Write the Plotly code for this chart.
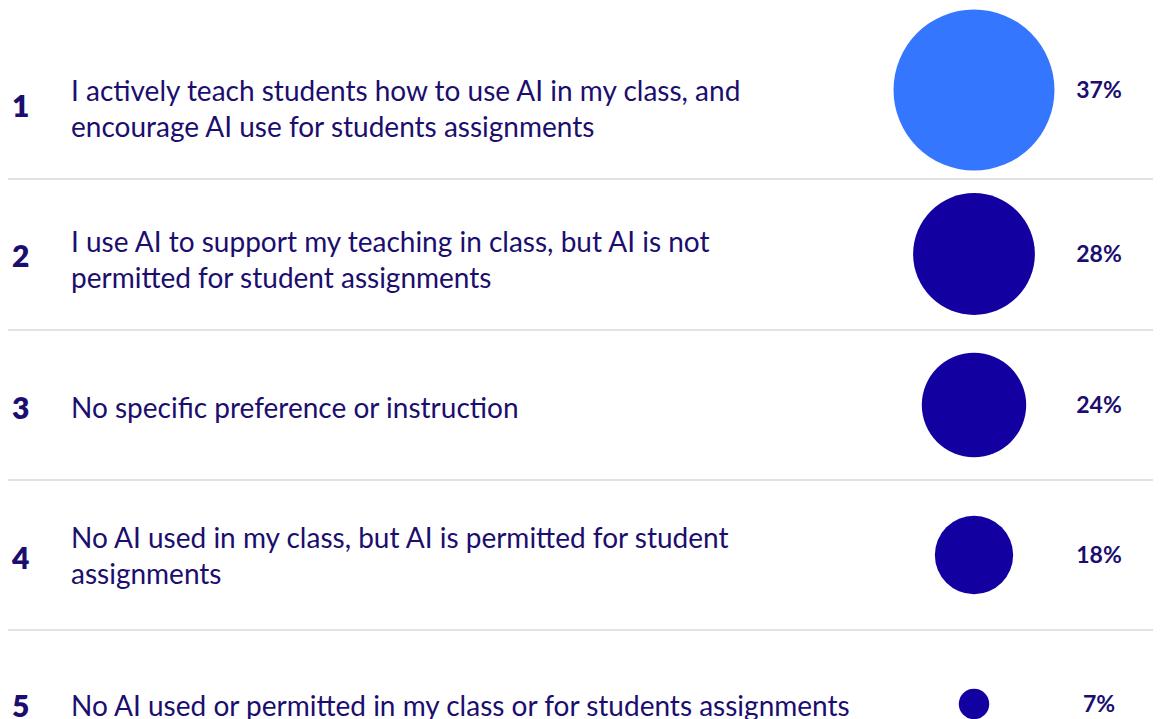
import plotly.graph_objects as go

ranks = ["1", "2", "3", "4", "5"]
statements = [
    "I actively teach students how to use AI in my class, and<br>encourage AI use for students assignments",
    "I use AI to support my teaching in class, but AI is not<br>permitted for student assignments",
    "No specific preference or instruction",
    "No AI used in my class, but AI is permitted for student<br>assignments",
    "No AI used or permitted in my class or for students assignments",
]
shares = [37, 28, 24, 18, 7]
pct_labels = ["37%", "28%", "24%", "18%", "7%"]
circle_colors = ["#3576FF", "#1300A1", "#1300A1", "#1300A1", "#1300A1"]

# layout constants (pixel space of the 1161x719 window)
W, H = 1161, 719
OFF = 8  # default page body margin
row_y = [90, 254, 405, 555, 704]
pct_y = [92, 256, 407, 557, 706]
text_y = [108, 259, 407, 555, 705]
num_y = [105, 255, 407, 557, 705]
sep_y = [179, 330, 480, 630]
circle_x = 974
pct_x = 1099
px_per_pct = 4.35

TEXT = "#1B0E6E"
FONT = "Lato"

fig = go.Figure()
fig.add_trace(go.Scatter(
    x=[circle_x] * len(shares), y=row_y, mode="markers",
    marker=dict(size=[s * px_per_pct for s in shares], sizemode="diameter",
                color=circle_colors, line=dict(width=0), opacity=1),
    hoverinfo="skip", showlegend=False, cliponaxis=False,
))
fig.add_trace(go.Scatter(
    x=[pct_x] * len(shares), y=pct_y, mode="text", text=pct_labels,
    textfont=dict(family=FONT, size=23, color=TEXT, weight=700),
    textposition="middle center", hoverinfo="skip", showlegend=False, cliponaxis=False,
))

for y in sep_y:
    fig.add_shape(type="line", x0=8, x1=W, y0=y, y1=y,
                  line=dict(color="#E2E2E2", width=2), layer="below")

for r, s, ty, ny in zip(ranks, statements, text_y, num_y):
    fig.add_annotation(x=20, y=ny, text=r, showarrow=False, xanchor="center", yanchor="middle",
                       font=dict(family=FONT, size=30, color=TEXT, weight=800))
    fig.add_annotation(x=69, y=ty, text=s, showarrow=False, xanchor="left", yanchor="middle",
                       align="left", font=dict(family=FONT, size=28, color=TEXT))

fig.update_xaxes(range=[OFF, W], visible=False, fixedrange=True)
fig.update_yaxes(range=[H, OFF], visible=False, fixedrange=True)
fig.update_layout(width=W - OFF, height=H - OFF, margin=dict(l=0, r=0, t=0, b=0),
                  paper_bgcolor="white", plot_bgcolor="white")
fig.write_html("out.html")
